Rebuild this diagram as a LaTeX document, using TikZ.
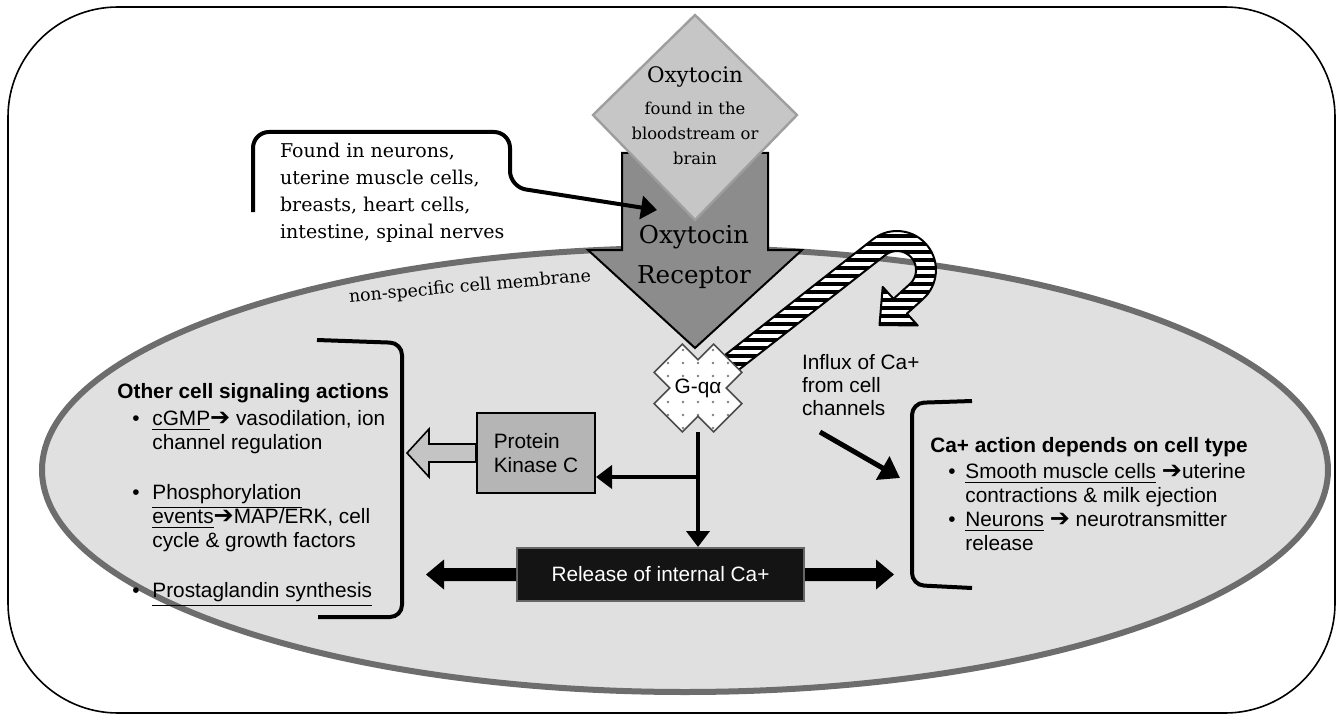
\documentclass[tikz,border=0pt]{standalone}
\usepackage{fontspec}
\setmainfont{Liberation Sans}
\newfontfamily\seriffam{DejaVu Serif}
\newfontfamily\symfam{DejaVu Sans}
\usetikzlibrary{arrows.meta,calc}

\definecolor{celda}{HTML}{E0E0E0}
\definecolor{borde}{HTML}{6D6D6D}
\definecolor{receptor}{HTML}{8C8C8C}
\definecolor{rombo}{HTML}{C6C6C6}
\definecolor{rombobd}{HTML}{9E9E9E}
\definecolor{cinasa}{HTML}{B5B5B5}
\definecolor{flechagris}{HTML}{C4C4C4}

\newcommand{\flecha}{{\symfam\fontsize{12}{12}\selectfont ➔}}
\newcommand{\undl}[1]{\underline{#1}}
\newcommand{\punto}[1]{\hspace*{#1}\makebox[\dimexpr17.5pt-#1\relax][l]{•}}
\newcommand{\sangria}{\hspace*{17.5pt}}

\tikzset{
  sans/.style={font=\fontsize{10.4}{12}\selectfont},
  corchete/.style={line width=2pt, rounded corners=6pt},
  punta/.style={-{Triangle[length=8pt,width=11.5pt]}},
}

\begin{document}
\begin{tikzpicture}[x=0.5pt,y=-0.5pt]
\useasboundingbox (0,0) rectangle (1344,717);

% Marco
\draw[line width=0.8pt, rounded corners=55pt] (8,7) rectangle (1335,713);

% Membrana celular
\draw[fill=celda, draw=borde, line width=3pt] (685,470) ellipse [x radius=643, y radius=222];
\node[rotate=5, font=\seriffam\fontsize{8.7}{10}\selectfont] (memb) at (470,287) {non-specific cell membrane};

% Receptor
\draw[fill=receptor, line width=1pt] (622,153) -- (768,153) -- (768,250) -- (802,250)
    -- (695,348) -- (588,250) -- (622,250) -- cycle;
\node[font=\seriffam\fontsize{12.3}{20}\selectfont, align=center] (rec) at (694,257) {Oxytocin\\Receptor};

% Oxitocina
\draw[fill=rombo, draw=rombobd, line width=1.2pt] (695,15) -- (797,115) -- (695,220) -- (593,115) -- cycle;
\node[font=\seriffam\fontsize{10.7}{12}\selectfont] (oxy) at (695,77) {Oxytocin};
\node[font=\seriffam\fontsize{8.2}{12.5}\selectfont, align=center] (oxyinfo) at (695,133)
    {found in the\\bloodstream or\\brain};

% Donde se encuentra
\node[font=\seriffam\fontsize{9.5}{13.5}\selectfont, align=left, anchor=west] (found) at (273,193)
    {Found in neurons,\\uterine muscle cells,\\breasts, heart cells,\\intestine, spinal nerves};
\coordinate (rectip) at (657,210);
\draw[corchete, rounded corners=8pt, punta] (253,212) -- (253,132) -- (510,132) -- (510,187) -- (rectip);

% Flecha rayada (influjo de Ca+)
\def\rayada{(705.8,370.1) -- (872.9,239.3) arc[start angle=-128.05, end angle=47.8, radius=39]
    -- (906.9,313.6) -- (917.7,325.5) -- (879.5,325.0) -- (882.7,286.9) -- (893.5,298.8)
    -- (909.8,284.1) arc[start angle=47.8, end angle=-128.05, radius=19] -- (718.2,385.9) -- cycle}
\begin{scope}
  \clip \rayada;
  \fill[white] (690,220) rectangle (950,400);
  \foreach \k in {0,...,22} \fill (690,226+8*\k) rectangle (950,230+8*\k);
\end{scope}
\draw[line width=1pt, line join=round] \rayada;

% G-q alfa
\def\cruz{(20,20) -- (42,20) -- (42,-20) -- (20,-20) -- (20,-42) -- (-20,-42) -- (-20,-20)
    -- (-42,-20) -- (-42,20) -- (-20,20) -- (-20,42) -- (20,42) -- cycle}
\fill[white, shift={(698,388)}, rotate=45] \cruz;
\begin{scope}
  \clip[shift={(698,388)}, rotate=45] \cruz;
  \foreach \i in {0,...,5}
    \foreach \j in {0,...,6}
      \fill[gray] (668+15*\i,350+13*\j) circle[radius=1.3];
  \fill[white] (670,378) rectangle (726,400);
\end{scope}
\draw[line width=0.8pt, draw=black!70, shift={(698,388)}, rotate=45] \cruz;
\node[minimum width=44pt, minimum height=44pt, sans] (gq) at (698,388) {G-qα};

% Cinasa y liberacion de Ca+
\node[draw, line width=1pt, fill=cinasa, minimum width=59pt, minimum height=40pt, align=left, sans]
    (pkc) at (536,453) {Protein\\Kinase C};
\node[draw=black!60, line width=1pt, fill=black!92, text=white, minimum width=143.5pt,
    minimum height=26.5pt, sans] (rel) at (660.5,574.5) {Release of internal Ca+};

\coordinate (ramal) at (698,477);
\draw[line width=2pt, punta] (gq.south) -- (gq.south |- rel.north);
\draw[line width=2pt, punta] (ramal) -- (pkc.east |- ramal);

\draw[fill=flechagris, line width=0.8pt] ($(pkc.west)+(0,-9)$) -- ++(-47,0) -- ++(0,-15)
    -- ++(-22,24) -- ++(22,24) -- ++(0,-15) -- ++(47,0) -- cycle;

\fill ($(rel.west)+(0,-6.5)$) -- ++(-72,0) -- ++(0,-8.5) -- ++(-18,15) -- ++(18,15)
    -- ++(0,-8.5) -- ++(72,0) -- cycle;
\fill ($(rel.east)+(0,-6.5)$) -- ++(71,0) -- ++(0,-8.5) -- ++(18,15) -- ++(-18,15)
    -- ++(0,-8.5) -- ++(-71,0) -- cycle;

% Otras acciones
\draw[corchete] (317,340) -- (402,343) -- (402,617) -- (318,617);
\node[sans, align=left, anchor=north west, inner sep=0] (otras) at (117,383.5) {%
  \textbf{Other cell signaling actions}\\[1.5pt]
  \punto{7.5pt}\undl{cGMP}\flecha{} vasodilation, ion\\
  \sangria channel regulation\\[13pt]
  \punto{7.5pt}\undl{Phosphorylation}\\
  \sangria\undl{events}\flecha MAP/ERK, cell\\
  \sangria cycle \& growth factors\\[13pt]
  \punto{7.5pt}\undl{Prostaglandin synthesis}};

% Accion del Ca+
\node[sans, align=left, anchor=west, font=\fontsize{10.4}{11.5}\selectfont] (influjo) at (795,385)
    {Influx of Ca+\\from cell\\channels};
\coordinate (infl) at (820,432);
\coordinate (cabr) at (900,478);
\draw[line width=2.5pt, -{Triangle[length=10pt,width=13pt]}] (infl) -- (cabr);

\draw[corchete] (972,401) -- (912,403) -- (912,585) -- (972,588);
\node[sans, align=left, anchor=north west, inner sep=0] (caacc) at (930,437.5) {%
  \textbf{Ca+ action depends on cell type}\\[1pt]
  \punto{9pt}\undl{Smooth muscle cells} \flecha uterine\\
  \sangria contractions \& milk ejection\\
  \punto{9pt}\undl{Neurons} \flecha{} neurotransmitter\\
  \sangria release};

\end{tikzpicture}
\end{document}
